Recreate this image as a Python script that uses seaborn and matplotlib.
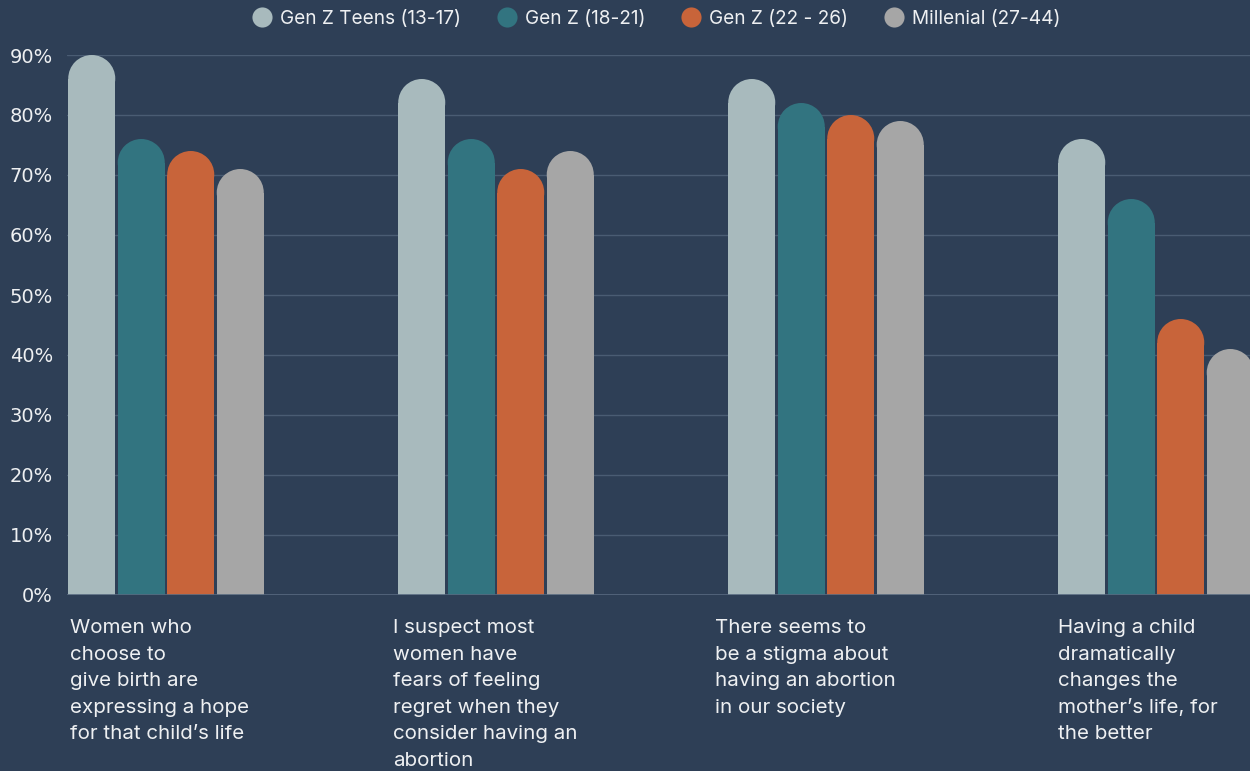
import matplotlib
matplotlib.use("Agg")
import matplotlib.pyplot as plt
import seaborn as sns
import pandas as pd
from matplotlib.patches import Ellipse
from matplotlib.lines import Line2D

# Survey statements (x categories)
statements = [
    "Women who\nchoose to\ngive birth are\nexpressing a hope\nfor that child\u2019s life",
    "I suspect most\nwomen have\nfears of feeling\nregret when they\nconsider having an\nabortion",
    "There seems to\nbe a stigma about\nhaving an abortion\nin our society",
    "Having a child\ndramatically\nchanges the\nmother\u2019s life, for\nthe better",
]

# Age groups (hue)
groups = ["Gen Z Teens (13-17)", "Gen Z (18-21)", "Gen Z (22 - 26)", "Millenial (27-44)"]

# Percent agreeing, per age group
teens_13_17 = [90, 86, 86, 76]
genz_18_21 = [76, 76, 82, 66]
genz_22_26 = [74, 71, 80, 46]
millenial_27_44 = [71, 74, 79, 41]

y_ticks = [0, 10, 20, 30, 40, 50, 60, 70, 80, 90]

# Styling
BG = "#2e3f56"
GRID = "#4a5c73"
TEXT = "#eef0f2"
palette = ["#a8babd", "#327480", "#c8643a", "#a6a6a6"]
label_shift = [0.009, -0.012, -0.036, 0.003]  # fine left offsets for statement captions

values = [teens_13_17, genz_18_21, genz_22_26, millenial_27_44]
df = pd.DataFrame(
    [(s, g, v[i]) for g, v in zip(groups, values) for i, s in enumerate(statements)],
    columns=["statement", "group", "value"],
)

sns.set_theme(style="white")
plt.rcParams["font.family"] = ["Inter", "DejaVu Sans"]

W, H = 1250, 771
fig = plt.figure(figsize=(W / 100, H / 100), dpi=100, facecolor=BG)
ax_left, ax_bottom, ax_top = 67, 595, 55
ax = fig.add_axes([ax_left / W, (H - ax_bottom) / H, (W - ax_left) / W, (ax_bottom - ax_top) / H])
ax.set_facecolor(BG)

sns.barplot(
    data=df, x="statement", y="value", hue="group", hue_order=groups,
    order=statements, palette=palette, width=0.6, gap=0.05, saturation=1,
    errorbar=None, linewidth=0, legend=False, ax=ax, zorder=3,
)

ax.set_xlim(-0.3, -0.3 + (W - ax_left) / 330)
ax.set_ylim(0, 90)

# Rounded bar tops: shorten each bar by its half-width (in y units) and cap with a half-disc
fig.canvas.draw()
px_per_y = (ax_bottom - ax_top) / 90.0
bars = list(ax.patches)
for p in bars:
    x0, w, h = p.get_x(), p.get_width(), p.get_height()
    w_px = ax.transData.transform((x0 + w, 0))[0] - ax.transData.transform((x0, 0))[0]
    r_y = (w_px / 2) / px_per_y
    p.set_height(h - r_y)
    p.set_clip_on(False)
    cap = Ellipse((x0 + w / 2, h - r_y), w, 2 * r_y, facecolor=p.get_facecolor(),
                  edgecolor="none", zorder=3, clip_on=True)
    ax.add_patch(cap)

# Grid and axes
ax.set_yticks(y_ticks)
ax.set_yticklabels([f"{v}%" for v in y_ticks], fontsize=14, color=TEXT,
                   family=["DejaVu Sans"])
ax.yaxis.grid(True, color=GRID, linewidth=1, zorder=0)
ax.xaxis.grid(False)
ax.set_axisbelow(True)
ax.tick_params(axis="y", length=0, pad=10)
ax.tick_params(axis="x", length=0)
ax.set_xticks([])
ax.set_xlabel("")
ax.set_ylabel("")
for sp in ax.spines.values():
    sp.set_visible(False)
ax.axhline(0, color="#56687e", linewidth=1.2, zorder=4)

# Statement captions under each group
for i, s in enumerate(statements):
    ax.annotate(s, xy=(i - 0.3 + label_shift[i], 0), xycoords="data",
                xytext=(0, -17.5), textcoords="offset points",
                ha="left", va="top", fontsize=14.8, color=TEXT, linespacing=1.61,
                annotation_clip=False)

# Legend across the top
handles = [Line2D([0], [0], marker="o", linestyle="none", markersize=14.5,
                  markerfacecolor=c, markeredgecolor="none") for c in palette]
fig.legend(handles, groups, loc="center", bbox_to_anchor=(0.525, 1 - 19 / H),
           ncol=4, frameon=False, fontsize=13.7, labelcolor=TEXT,
           handletextpad=0.45, columnspacing=1.9, handlelength=1.0)

fig.savefig("out.png", dpi=100, facecolor=BG)
